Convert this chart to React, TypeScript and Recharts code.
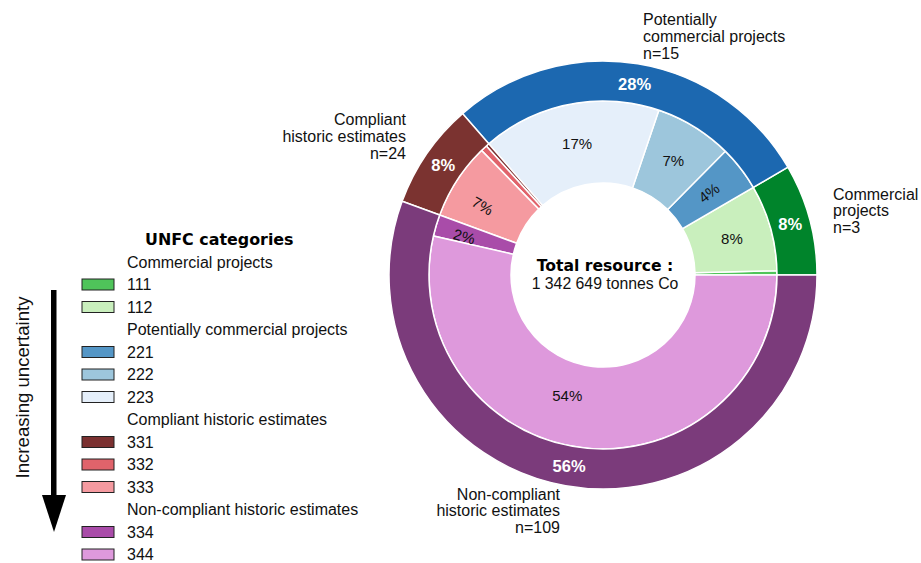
import React from 'react';
import { PieChart, Pie, Cell } from 'recharts';

// ---- data ----
const innerCodes = ['111', '112', '221', '222', '223', '331', '332', '333', '334', '344'];
const innerShares = [0.4, 8.0, 4.2, 7.2, 16.6, 0.3, 0.6, 7.1, 2.0, 53.6];
const innerColors = ['#4fc45a', '#c9efbd', '#5496c6', '#9dc6dc', '#e5effa', '#7b3131', '#e0636b', '#f59aa0', '#a94ca9', '#de99dc'];

const groupNames = ['Commercial projects', 'Potentially commercial projects', 'Compliant historic estimates', 'Non-compliant historic estimates'];
const groupShares = [8.4, 28.0, 8.0, 55.6];
const groupCounts = [3, 15, 24, 109];
const groupColors = ['#00842b', '#1c68b0', '#7b3330', '#7b3b7b'];
const groupCodeCounts = [2, 3, 3, 2];

const totalTonnes = '1 342 649';

const innerData = innerCodes.map((c, i) => ({ name: c, value: innerShares[i] }));
const outerData = groupNames.map((g, i) => ({ name: g, value: groupShares[i] }));

// ---- layout ----
const W = 921;
const H = 563;
const CX = 603;
const CY = 275;
const RAD = Math.PI / 180;
const FONT = '"Liberation Sans", Arial, sans-serif';

const rotatedCodes = new Set(['221', '333', '334']);
const labelTweak: Record<string, { da?: number; r?: number }> = {
  '344': { da: -10, r: 126 },
  '333': { da: 3, r: 139 },
  '334': { da: 1, r: 144 },
};

const renderInnerLabel = (p: any) => {
  const name = p.name ?? p.payload?.name;
  const value = p.value ?? p.payload?.value;
  if (value < 1.5) return null;
  const t = labelTweak[name] || {};
  const mid = p.midAngle + (t.da || 0);
  const r = t.r || 134;
  const x = CX + r * Math.cos(-mid * RAD);
  const y = CY + r * Math.sin(-mid * RAD);
  let rot = 0;
  if (rotatedCodes.has(name)) rot = mid < 90 ? -mid : 180 - mid;
  return (
    <text
      key={'il' + name}
      x={x}
      y={y}
      fill="#111"
      fontSize={15}
      fontFamily={FONT}
      textAnchor="middle"
      dominantBaseline="central"
      transform={rot ? `rotate(${rot} ${x} ${y})` : undefined}
    >
      {Math.round(value)}%
    </text>
  );
};

const renderOuterLabel = (p: any) => {
  const value = p.value ?? p.payload?.value;
  const mid = p.midAngle;
  const r = 194;
  const x = CX + r * Math.cos(-mid * RAD);
  const y = CY + r * Math.sin(-mid * RAD);
  return (
    <text
      key={'ol' + p.index}
      x={x}
      y={y}
      fill="#ffffff"
      fontSize={16.5}
      fontWeight="bold"
      fontFamily={FONT}
      textAnchor="middle"
      dominantBaseline="central"
    >
      {Math.round(value)}%
    </text>
  );
};

function Legend() {
  const rows: { kind: 'head' | 'item'; text: string; color?: string }[] = [];
  let k = 0;
  groupNames.forEach((g, gi) => {
    rows.push({ kind: 'head', text: g });
    for (let j = 0; j < groupCodeCounts[gi]; j++) {
      rows.push({ kind: 'item', text: innerCodes[k], color: innerColors[k] });
      k++;
    }
  });
  const y0 = 267.5;
  const dy = 22.5;
  return (
    <g>
      <text x={145} y={245} fontSize={15.9} fontWeight="bold" fontFamily='"DejaVu Sans", sans-serif' fill="#000">
        UNFC categories
      </text>
      {rows.map((r, i) => {
        const yb = y0 + i * dy;
        return (
          <g key={i}>
            {r.kind === 'item' && (
              <rect x={82} y={yb - 11} width={32} height={11} fill={r.color} stroke="#222" strokeWidth={1} />
            )}
            <text x={127} y={yb} fontSize={16} fontFamily={FONT} fill="#111">
              {r.text}
            </text>
          </g>
        );
      })}
    </g>
  );
}

function MultiLine({ x, y, lines, anchor }: { x: number; y: number; lines: string[]; anchor: 'start' | 'end' }) {
  return (
    <text x={x} y={y} fontSize={16} fontFamily={FONT} fill="#111" textAnchor={anchor}>
      {lines.map((l, i) => (
        <tspan key={i} x={x} dy={i === 0 ? 0 : 16.8}>
          {l}
        </tspan>
      ))}
    </text>
  );
}

export default function App() {
  return (
    <div style={{ position: 'absolute', left: 0, top: 0, width: W, height: H, background: '#fff' }}>
      <PieChart width={W} height={H} margin={{ top: 0, right: 0, bottom: 0, left: 0 }}>
        <Pie
          data={innerData}
          dataKey="value"
          nameKey="name"
          cx={CX}
          cy={CY}
          innerRadius={92}
          outerRadius={174}
          startAngle={0}
          endAngle={360}
          stroke="#ffffff"
          strokeWidth={1.5}
          isAnimationActive={false}
          label={renderInnerLabel}
          labelLine={false}
        >
          {innerData.map((d, i) => (
            <Cell key={d.name} fill={innerColors[i]} />
          ))}
        </Pie>
        <Pie
          data={outerData}
          dataKey="value"
          nameKey="name"
          cx={CX}
          cy={CY}
          innerRadius={174}
          outerRadius={214}
          startAngle={0}
          endAngle={360}
          stroke="#ffffff"
          strokeWidth={1.5}
          isAnimationActive={false}
          label={renderOuterLabel}
          labelLine={false}
        >
          {outerData.map((d, i) => (
            <Cell key={d.name} fill={groupColors[i]} />
          ))}
        </Pie>
      </PieChart>
      <svg width={W} height={H} style={{ position: 'absolute', left: 0, top: 0, pointerEvents: 'none' }}>
        <text x={605} y={270.5} fontSize={15.6} fontWeight="bold" fontFamily='"DejaVu Sans", sans-serif' textAnchor="middle" fill="#000">
          Total resource :
        </text>
        <text x={605} y={288.5} fontSize={15.8} fontFamily={FONT} textAnchor="middle" fill="#111">
          {totalTonnes} tonnes Co
        </text>
        <MultiLine x={643} y={25} anchor="start" lines={['Potentially', 'commercial projects', `n=${groupCounts[1]}`]} />
        <MultiLine x={833} y={199.5} anchor="start" lines={['Commercial', 'projects', `n=${groupCounts[0]}`]} />
        <MultiLine x={406} y={125} anchor="end" lines={['Compliant', 'historic estimates', `n=${groupCounts[2]}`]} />
        <MultiLine x={560} y={499.5} anchor="end" lines={['Non-compliant', 'historic estimates', `n=${groupCounts[3]}`]} />
        <Legend />
        <text
          x={22}
          y={387.5}
          fontSize={18.6}
          fontFamily={FONT}
          fill="#111"
          textAnchor="middle"
          dominantBaseline="central"
          transform="rotate(-90 22 387.5)"
        >
          Increasing uncertainty
        </text>
        <rect x={51} y={290} width={5.5} height={207} fill="#000" />
        <polygon points="42,495 66,495 54,532" fill="#000" />
      </svg>
    </div>
  );
}
